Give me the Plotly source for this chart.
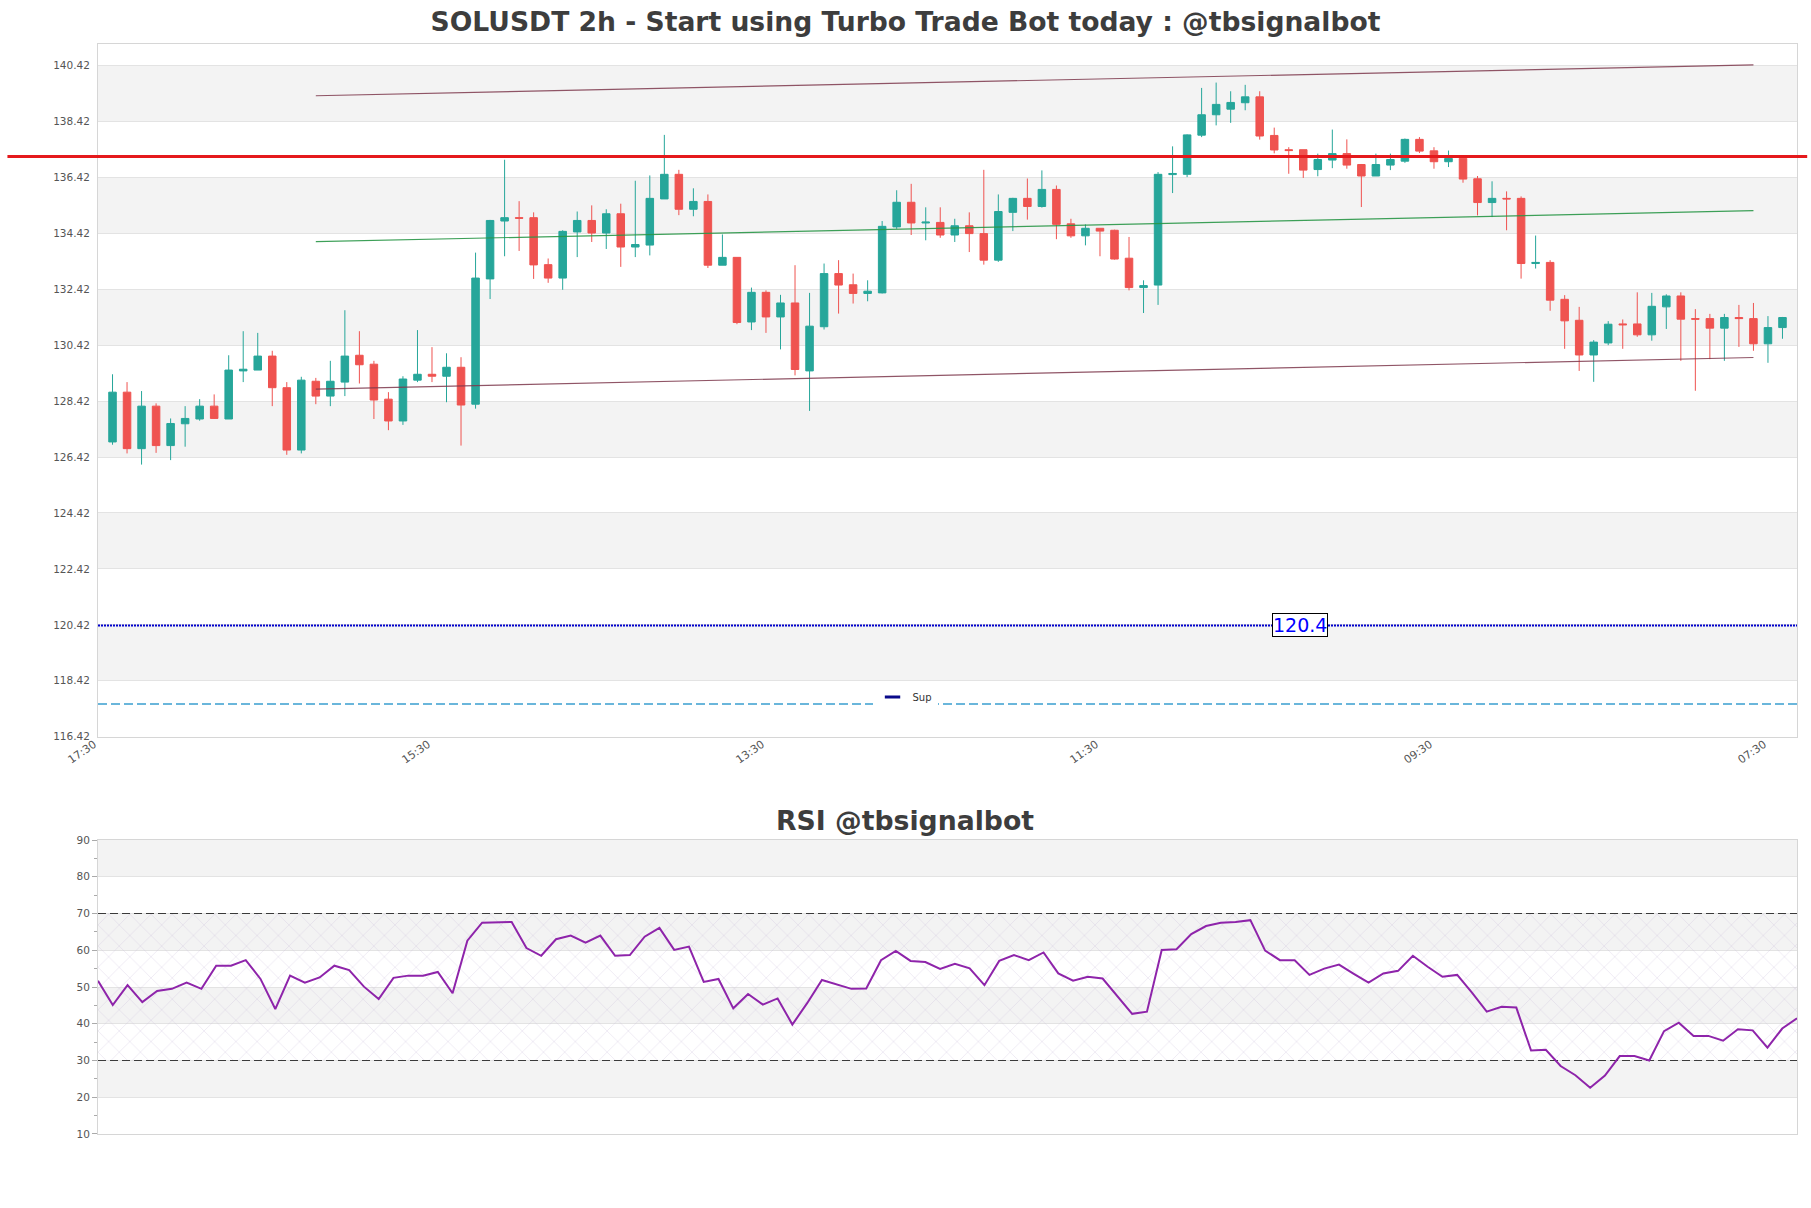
import plotly.graph_objects as go

# ---------------- data ----------------
candle_index = list(range(116))

opens = [126.96, 128.74, 126.72, 128.24, 126.83, 127.61, 127.78, 128.24, 127.78, 129.50,
         129.53, 130.03, 128.90, 126.67, 129.13, 128.60, 129.10, 130.06, 129.74, 128.49,
         127.71, 129.17, 129.38, 129.31, 129.63, 128.31, 132.79, 134.86, 134.98, 134.98,
         133.30, 132.82, 134.47, 134.88, 134.43, 135.12, 133.93, 134.00, 135.65, 136.53,
         135.28, 135.56, 133.28, 133.56, 131.25, 132.31, 131.43, 131.93, 129.50, 131.08,
         132.98, 132.58, 132.27, 132.29, 134.65, 135.53, 134.79, 134.81, 134.36, 134.69,
         134.41, 133.46, 135.17, 135.67, 135.38, 135.99, 134.76, 134.33, 134.60, 134.53,
         133.53, 132.48, 132.57, 136.52, 136.53, 137.93, 138.66, 138.86, 139.09, 139.30,
         137.92, 137.41, 137.41, 136.70, 137.04, 137.27, 136.88, 136.47, 136.86, 137.00,
         137.78, 137.37, 136.98, 137.10, 136.37, 135.52, 135.67, 135.67, 133.34, 133.38,
         132.06, 131.31, 130.07, 130.50, 131.18, 131.18, 130.79, 131.79, 132.18, 131.37,
         131.37, 131.03, 131.41, 131.37, 130.47, 131.05]
highs = [129.38, 129.10, 128.78, 128.34, 127.80, 128.24, 128.49, 128.66, 130.06, 130.92,
         130.86, 130.22, 129.10, 129.29, 129.25, 129.86, 131.67, 130.92, 129.86, 128.74,
         129.31, 130.96, 130.35, 130.13, 129.99, 133.73, 134.90, 137.05, 135.57, 135.17,
         133.52, 134.53, 135.20, 135.42, 135.28, 135.48, 136.30, 136.49, 137.94, 136.69,
         136.03, 135.81, 134.38, 133.56, 132.48, 132.38, 132.22, 133.28, 132.29, 133.34,
         133.46, 132.98, 132.74, 134.86, 135.96, 136.19, 135.35, 135.35, 134.94, 135.17,
         136.69, 135.81, 135.69, 136.38, 136.67, 136.13, 134.94, 134.74, 134.60, 134.55,
         134.29, 132.74, 136.61, 137.53, 137.96, 139.62, 139.81, 139.50, 139.73, 139.50,
         138.20, 137.50, 137.41, 137.27, 138.13, 137.78, 136.90, 137.27, 137.27, 137.81,
         137.86, 137.50, 137.38, 137.10, 136.47, 136.28, 135.92, 135.74, 134.34, 133.46,
         132.21, 131.79, 130.60, 131.28, 131.34, 132.31, 132.29, 132.24, 132.31, 131.71,
         131.54, 131.54, 131.86, 131.93, 131.46, 131.43]
lows = [126.86, 126.55, 126.15, 126.57, 126.31, 126.79, 127.72, 127.78, 127.78, 129.10,
        129.53, 128.24, 126.50, 126.55, 128.31, 128.24, 128.60, 129.05, 127.78, 127.38,
        127.57, 129.10, 129.10, 128.38, 126.83, 128.15, 132.07, 133.60, 133.79, 132.79,
        132.65, 132.40, 133.57, 134.11, 133.86, 133.22, 133.57, 133.63, 135.65, 135.07,
        135.03, 133.18, 133.28, 131.17, 130.96, 130.86, 130.27, 129.34, 128.07, 130.98,
        131.55, 131.91, 131.99, 132.27, 134.58, 134.36, 134.17, 134.26, 134.11, 133.75,
        133.30, 133.40, 134.50, 134.91, 135.34, 134.21, 134.26, 133.99, 133.60, 133.48,
        132.38, 131.57, 131.86, 135.86, 136.43, 137.86, 138.28, 138.37, 138.82, 137.77,
        137.28, 136.55, 136.40, 136.46, 136.75, 136.73, 135.36, 136.47, 136.68, 136.94,
        137.29, 136.73, 136.79, 136.23, 135.06, 135.00, 134.53, 132.80, 133.16, 131.65,
        130.29, 129.50, 129.11, 130.42, 130.29, 130.72, 130.58, 131.00, 129.86, 128.79,
        129.92, 129.86, 130.36, 130.22, 129.79, 130.65]
closes = [128.74, 126.72, 128.24, 126.83, 127.62, 127.80, 128.24, 127.80, 129.53, 129.56,
          130.03, 128.90, 126.67, 129.17, 128.60, 129.13, 130.03, 129.72, 128.46, 127.71,
          129.21, 129.38, 129.31, 129.63, 128.28, 132.82, 134.88, 134.98, 134.96, 133.29,
          132.82, 134.49, 134.88, 134.43, 135.12, 133.93, 134.02, 135.67, 136.53, 135.28,
          135.56, 133.28, 133.56, 131.23, 132.31, 131.43, 131.93, 129.55, 131.10, 132.98,
          132.57, 132.27, 132.35, 134.67, 135.53, 134.79, 134.82, 134.36, 134.69, 134.41,
          133.46, 135.20, 135.67, 135.38, 135.99, 134.74, 134.33, 134.60, 134.50, 133.50,
          132.48, 132.55, 136.53, 136.56, 137.94, 138.66, 139.03, 139.10, 139.30, 137.90,
          137.40, 137.38, 136.68, 137.06, 137.27, 136.86, 136.47, 136.88, 137.06, 137.78,
          137.36, 136.98, 137.10, 136.36, 135.52, 135.67, 135.65, 133.34, 133.38, 132.03,
          131.29, 130.07, 130.53, 131.17, 131.15, 130.79, 131.81, 132.18, 131.35, 131.35,
          131.03, 131.41, 131.37, 130.47, 131.05, 131.41]

rsi_values = [51.7, 45.1, 50.5, 45.9, 48.9, 49.5, 51.2, 49.5, 55.8, 55.8,
              57.3, 52.2, 44.0, 53.1, 51.2, 52.6, 55.8, 54.6, 50.1, 46.7,
              52.5, 53.1, 53.1, 54.1, 48.3, 62.6, 67.5, 67.7, 67.7, 60.6,
              58.5, 63.0, 64.0, 62.1, 64.0, 58.5, 58.7, 63.7, 66.1, 60.1,
              61.0, 51.4, 52.2, 44.2, 48.1, 45.2, 46.9, 39.8, 45.6, 51.9,
              50.6, 49.5, 49.6, 57.3, 59.8, 57.1, 56.8, 54.9, 56.3, 55.1,
              50.5, 57.1, 58.7, 57.3, 59.4, 53.7, 51.7, 52.8, 52.3, 47.4,
              42.7, 43.3, 60.1, 60.3, 64.4, 66.6, 67.5, 67.7, 68.2, 59.9,
              57.3, 57.3, 53.3, 55.0, 56.1, 53.6, 51.2, 53.7, 54.4, 58.5,
              55.5, 52.8, 53.3, 48.5, 43.3, 44.6, 44.4, 32.7, 32.9, 28.5,
              26.0, 22.6, 25.9, 31.2, 31.2, 30.0, 38.0, 40.3, 36.7, 36.7,
              35.4, 38.5, 38.2, 33.5, 38.7, 41.5]

x_tick_positions = [-1, 22, 45, 68, 91, 114]
x_tick_labels = ["17:30", "15:30", "13:30", "11:30", "09:30", "07:30"]

price_tick_values = [116.42, 118.42, 120.42, 122.42, 124.42, 126.42, 128.42,
                     130.42, 132.42, 134.42, 136.42, 138.42, 140.42]
price_tick_labels = ["116.42", "118.42", "120.42", "122.42", "124.42", "126.42", "128.42",
                     "130.42", "132.42", "134.42", "136.42", "138.42", "140.42"]
rsi_tick_values = [10, 20, 30, 40, 50, 60, 70, 80, 90]
rsi_minor_values = [15, 25, 35, 45, 55, 65, 75, 85]

channel_x = [14, 113]
upper_channel = [139.34, 140.44]
middle_channel = [134.12, 135.23]
lower_channel = [128.85, 129.98]

resistance_level = 137.17
support_level = 120.4
support_label = "120.4"
lower_support_level = 117.59
rsi_overbought = 70
rsi_oversold = 30

# ---------------- figure ----------------
FONT = "DejaVu Sans"
fig = go.Figure()

# channel lines (under candles)
fig.add_trace(go.Scatter(x=channel_x, y=upper_channel, mode="lines",
                         line=dict(color="rgba(125,55,75,0.85)", width=1.2),
                         showlegend=False, hoverinfo="skip"))
fig.add_trace(go.Scatter(x=channel_x, y=middle_channel, mode="lines",
                         line=dict(color="rgba(40,150,70,0.9)", width=1.2),
                         showlegend=False, hoverinfo="skip"))
fig.add_trace(go.Scatter(x=channel_x, y=lower_channel, mode="lines",
                         line=dict(color="rgba(125,55,75,0.85)", width=1.2),
                         showlegend=False, hoverinfo="skip"))

fig.add_trace(go.Candlestick(
    x=candle_index, open=opens, high=highs, low=lows, close=closes,
    increasing=dict(line=dict(color="#26a69a", width=1), fillcolor="#26a69a"),
    decreasing=dict(line=dict(color="#ef5350", width=1), fillcolor="#ef5350"),
    showlegend=False, xaxis="x", yaxis="y"))

# support line (dotted) and lower dashed line
fig.add_trace(go.Scatter(x=[-1, 116], y=[support_level, support_level], mode="lines",
                         line=dict(color="#0000cd", width=2, dash="2px,1px"),
                         showlegend=False, hoverinfo="skip"))
fig.add_trace(go.Scatter(x=[-1, 116], y=[lower_support_level, lower_support_level], mode="lines",
                         line=dict(color="#3a9fd0", width=1.3, dash="9px,4px"),
                         showlegend=False, hoverinfo="skip"))
# legend entry
fig.add_trace(go.Scatter(x=[None], y=[None], mode="markers", name="Sup",
                         marker=dict(symbol="line-ew-open", size=11, color="#0a0a8a",
                                     line=dict(color="#0a0a8a", width=3))))

# RSI hatched zone
fig.add_trace(go.Scatter(x=[0, 115], y=[rsi_oversold, rsi_oversold], mode="lines",
                         line=dict(width=0, color="rgba(0,0,0,0)"), xaxis="x2", yaxis="y2",
                         showlegend=False, hoverinfo="skip"))
fig.add_trace(go.Scatter(x=[0, 115], y=[rsi_overbought, rsi_overbought], mode="lines",
                         line=dict(width=0, color="rgba(0,0,0,0)"), xaxis="x2", yaxis="y2",
                         fill="tonexty", fillcolor="rgba(0,0,0,0)",
                         fillpattern=dict(shape="x", fgcolor="rgba(195,178,212,0.85)",
                                          bgcolor="rgba(0,0,0,0)", size=15, solidity=0.08),
                         showlegend=False, hoverinfo="skip"))
for lvl in (rsi_overbought, rsi_oversold):
    fig.add_trace(go.Scatter(x=[0, 115], y=[lvl, lvl], mode="lines",
                             line=dict(color="#3a3a3a", width=1.2, dash="8px,4px"),
                             xaxis="x2", yaxis="y2", showlegend=False, hoverinfo="skip"))
fig.add_trace(go.Scatter(x=list(range(len(rsi_values))), y=rsi_values, mode="lines",
                         line=dict(color="#8e24aa", width=2),
                         xaxis="x2", yaxis="y2", showlegend=False))

# bands
shapes = []
for lo in (118.42, 122.42, 126.42, 130.42, 134.42, 138.42):
    shapes.append(dict(type="rect", xref="x domain", yref="y", x0=0, x1=1, y0=lo, y1=lo + 2,
                       fillcolor="#f3f3f3", line=dict(width=0), layer="below"))
for lo in (20, 40, 60, 80):
    shapes.append(dict(type="rect", xref="x2 domain", yref="y2", x0=0, x1=1, y0=lo, y1=lo + 10,
                       fillcolor="#f3f3f3", line=dict(width=0), layer="below"))
# resistance line extending past the plot
shapes.append(dict(type="line", xref="paper", yref="y", x0=-0.0533, x1=1.006,
                   y0=resistance_level, y1=resistance_level,
                   line=dict(color="#e5191c", width=3), layer="above"))

axis_line = "#d6d6d6"
grid = "#e3e3e3"
tickfont = dict(family=FONT, size=10.5, color="#555555")

fig.update_layout(
    width=1811, height=1208,
    margin=dict(l=98, r=14, t=44, b=74),
    paper_bgcolor="white", plot_bgcolor="white",
    font=dict(family=FONT),
    boxgap=0.26,
    title=dict(text="SOLUSDT 2h - Start using Turbo Trade Bot today : @tbsignalbot",
               x=0.5, xanchor="center", y=1 - 22 / 1208, yanchor="middle",
               font=dict(family=FONT, size=26.6, color="#3d3d3d", weight="bold")),
    xaxis=dict(domain=[0, 1], anchor="y", range=[-1, 116],
               tickmode="array", tickvals=x_tick_positions, ticktext=x_tick_labels,
               tickangle=-35, tickfont=dict(family=FONT, size=11, color="#555555"),
               ticklabelshift=-4, ticklabelstandoff=-4,
               showgrid=False, zeroline=False,
               showline=True, mirror=True, linecolor=axis_line, linewidth=1,
               rangeslider=dict(visible=False)),
    yaxis=dict(domain=[0.3645, 1], anchor="x", range=[116.42, 141.19],
               tickmode="array", tickvals=price_tick_values, ticktext=price_tick_labels,
               tickfont=tickfont, showgrid=True, gridcolor=grid, gridwidth=1,
               zeroline=False, showline=True, mirror=True, linecolor=axis_line,
               ticks="outside", ticklen=5, tickcolor="rgba(0,0,0,0)"),
    xaxis2=dict(domain=[0, 1], anchor="y2", range=[0, 115], showticklabels=False,
                showgrid=False, zeroline=False, showline=True, mirror=True,
                linecolor=axis_line),
    yaxis2=dict(domain=[0, 0.2697], anchor="x2", range=[10, 90],
                tickmode="array", tickvals=rsi_tick_values, tickfont=tickfont,
                showgrid=True, gridcolor=grid, zeroline=False, showline=True, mirror=True,
                linecolor=axis_line, ticks="outside", ticklen=5, tickcolor="#aaaaaa",
                minor=dict(tickmode="array", tickvals=rsi_minor_values, ticks="outside",
                           ticklen=3, tickcolor="#aaaaaa", showgrid=False)),
    shapes=shapes,
    showlegend=True,
    legend=dict(x=0.475, y=0.401, xanchor="center", yanchor="middle",
                bgcolor="white", orientation="h",
                font=dict(family=FONT, size=10, color="#333333")),
    annotations=[
        dict(text="RSI @tbsignalbot", xref="paper", yref="paper", x=0.4751, y=0.288,
             xanchor="center", yanchor="middle", showarrow=False,
             font=dict(family=FONT, size=26.7, color="#3d3d3d", weight="bold")),
        dict(text=support_label, xref="x", yref="y", x=81.8, y=support_level,
             xanchor="center", yanchor="middle", showarrow=False,
             font=dict(family=FONT, size=19, color="#0000ff"),
             bgcolor="white", bordercolor="#000000", borderwidth=1, borderpad=0),
    ],
)

fig.write_html("out.html")
